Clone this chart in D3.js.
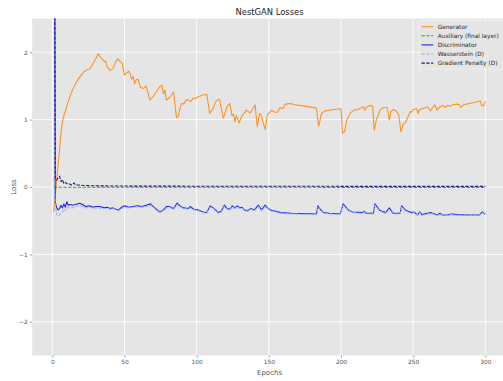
<!DOCTYPE html>
<html>
<head>
<meta charset="utf-8">
<script src="https://cdn.jsdelivr.net/npm/d3@7"></script>
<style>
  html, body { margin: 0; padding: 0; background: #ffffff; }
  svg { display: block; font-family: "DejaVu Sans", sans-serif; }
</style>
</head>
<body>
<svg id="chart" width="503" height="381"></svg>
<script>
// Loss curves per epoch: [epoch, loss]
const generator = [
  [1,-0.37],[2,-0.12],[3,0.1],[4,0.33],[5,0.55],[6,0.8],[7,0.96],[8,1.06],[9,1.12],[10,1.2],[12,1.33],
  [14,1.44],[16,1.53],[18,1.6],[20,1.66],[22,1.71],[24,1.74],[26,1.75],[28,1.82],[30,1.9],[32,1.98],
  [33,1.93],[35,1.89],[36,1.86],[37,1.87],[38,1.78],[40,1.73],[42,1.76],[44,1.86],[45.5,1.9],[47,1.86],
  [48.5,1.83],[50,1.66],[51.5,1.69],[53,1.72],[54,1.67],[55,1.6],[56,1.64],[57,1.53],[58,1.59],[59.5,1.6],
  [61,1.48],[63,1.46],[65,1.5],[67.5,1.29],[70,1.35],[72,1.41],[74.5,1.49],[76,1.51],[77,1.38],[78,1.44],
  [79,1.29],[81,1.32],[84,1.41],[86,1.03],[87,1.04],[89.5,1.24],[91,1.23],[93,1.3],[94,1.29],[96,1.27],
  [97.5,1.32],[99,1.31],[101,1.34],[104.5,1.365],[107,1.375],[109,1.09],[111.5,1.17],[113,1.26],[115,1.3],[116,1.29],
  [118.5,1.02],[121,1.19],[123,1.24],[124.5,1.06],[125.5,1.08],[126.5,0.97],[127.5,1.06],[129.5,0.95],[131,1.04],[134.5,1.14],
  [137,1.1],[139,1.16],[140.5,1.22],[142,0.89],[143.5,1.09],[144.5,1.07],[147.5,0.85],[149,1.07],[152,1.14],[154,1.11],
  [156,1.11],[157.5,1.17],[160,1.17],[161.5,1.23],[165,1.24],[168,1.22],[175,1.2],[183,1.17],[184.5,0.9],[186.5,1.09],
  [189,1.13],[195,1.15],[200,1.16],[201,0.8],[202.5,0.82],[204,0.99],[206.5,1.1],[209,1.14],[212,1.15],[213.5,1.17],
  [215.5,1.19],[216.5,1.14],[218,1.19],[220,1.21],[222,1.2],[223,0.845],[224.5,0.99],[227,1.14],[229.5,1.18],[232,1.18],
  [233.5,0.99],[234.5,1.12],[236.5,1.15],[238.5,1.12],[240,1.07],[241.5,0.82],[243,0.93],[244.5,0.955],[246,1.02],[248,1.12],
  [249,1.11],[250,1.15],[252.5,1.16],[253.5,1.09],[254.5,1.15],[259,1.18],[260,1.19],[262,1.13],[263.5,1.18],[265,1.22],
  [266.5,1.14],[268.5,1.19],[271,1.21],[272,1.18],[274,1.21],[276,1.2],[277.5,1.22],[280,1.23],[282,1.22],[283,1.18],
  [285,1.22],[289,1.24],[294,1.26],[296.5,1.28],[297.5,1.21],[298.5,1.2],[299.5,1.24],[300,1.27]
];

const auxiliary = [
  [1,0.0],[2,0.0],[5,-0.003],[20,-0.003],[60,-0.004],[120,-0.004],[200,-0.005],[300,-0.005]
];

const discriminator = [
  [1,12],[2,-0.22],[3,-0.31],[4,-0.34],[5,-0.32],[6,-0.27],[7,-0.31],[8,-0.25],[9,-0.3],[10,-0.22],
  [11,-0.27],[12,-0.26],[14,-0.27],[16,-0.26],[19,-0.24],[21,-0.26],[23,-0.29],[26,-0.28],[28,-0.3],[30,-0.29],
  [33,-0.29],[36,-0.31],[38,-0.3],[40,-0.32],[42,-0.31],[44,-0.33],[46,-0.34],[48,-0.3],[50,-0.28],[53,-0.3],
  [56,-0.29],[59,-0.28],[62,-0.29],[65,-0.27],[68,-0.25],[70,-0.29],[72,-0.33],[74.5,-0.37],[77,-0.34],[79,-0.29],
  [81,-0.29],[84,-0.32],[86.5,-0.24],[89,-0.29],[91,-0.31],[94,-0.32],[95.5,-0.29],[98,-0.33],[101,-0.34],[104.5,-0.37],
  [107,-0.38],[109.3,-0.28],[111.5,-0.31],[115,-0.38],[117,-0.36],[119.2,-0.27],[121,-0.32],[123,-0.33],[124.7,-0.28],[126.5,-0.31],
  [128.2,-0.28],[130,-0.31],[131.5,-0.3],[133,-0.34],[135.5,-0.35],[137.4,-0.32],[140,-0.34],[142.7,-0.27],[144,-0.31],[145,-0.34],
  [147.4,-0.27],[149,-0.31],[152,-0.35],[155,-0.36],[158,-0.38],[166,-0.39],[183,-0.4],[184,-0.28],[185.5,-0.33],[188,-0.38],
  [192,-0.39],[199.5,-0.4],[201.5,-0.25],[205,-0.34],[208,-0.37],[215,-0.38],[216,-0.36],[217.5,-0.39],[222.5,-0.39],[223.5,-0.25],
  [227,-0.35],[231,-0.38],[233.5,-0.31],[236,-0.39],[241,-0.39],[242,-0.28],[245,-0.35],[249,-0.38],[250.5,-0.37],[253,-0.415],
  [254.5,-0.37],[256,-0.41],[262,-0.38],[265,-0.4],[267,-0.415],[268.5,-0.39],[270,-0.415],[274,-0.415],[276,-0.4],[281,-0.41],
  [288,-0.415],[296,-0.415],[298,-0.37],[300,-0.405]
];

const wasserstein = [
  [1,0.12],[2,-0.25],[3,-0.41],[4,-0.43],[5,-0.42],[6,-0.38],[7,-0.37],[8,-0.33],[9,-0.35],[10,-0.3],
  [11,-0.31],[12,-0.3],[14,-0.31],[16,-0.29],[19,-0.27],[21,-0.29],[23,-0.31],[26,-0.3],[28,-0.32],[30,-0.31],
  [33,-0.31],[36,-0.32],[38,-0.32],[40,-0.33],[42,-0.32],[44,-0.34],[46,-0.35],[48,-0.32],[50,-0.3],[53,-0.31],
  [56,-0.3],[59,-0.29],[62,-0.3],[65,-0.29],[68,-0.27],[70,-0.3],[72,-0.34],[74.5,-0.38],[77,-0.35],[79,-0.31],
  [81,-0.3],[84,-0.33],[86.5,-0.26],[89,-0.3],[91,-0.32],[94,-0.33],[95.5,-0.31],[98,-0.34],[101,-0.35],[104.5,-0.38],
  [107,-0.39],[109.3,-0.3],[111.5,-0.32],[115,-0.39],[117,-0.37],[119.2,-0.29],[121,-0.33],[123,-0.34],[124.7,-0.3],[126.5,-0.32],
  [128.2,-0.3],[130,-0.32],[131.5,-0.31],[133,-0.35],[135.5,-0.36],[137.4,-0.33],[140,-0.35],[142.7,-0.29],[144,-0.32],[145,-0.35],
  [147.4,-0.29],[149,-0.32],[152,-0.36],[155,-0.37],[158,-0.39],[166,-0.4],[183,-0.41],[184,-0.3],[185.5,-0.34],[188,-0.39],
  [192,-0.4],[199.5,-0.41],[201.5,-0.27],[205,-0.35],[208,-0.38],[215,-0.39],[216,-0.37],[217.5,-0.4],[222.5,-0.4],[223.5,-0.27],
  [227,-0.36],[231,-0.39],[233.5,-0.33],[236,-0.4],[241,-0.4],[242,-0.3],[245,-0.36],[249,-0.39],[250.5,-0.38],[253,-0.42],
  [254.5,-0.38],[256,-0.42],[262,-0.39],[265,-0.41],[267,-0.42],[268.5,-0.4],[270,-0.42],[274,-0.42],[276,-0.41],[281,-0.42],
  [288,-0.42],[296,-0.42],[298,-0.38],[300,-0.41]
];

const gradientPenalty = [
  [1,9],[2,0.13],[3,0.1],[4,0.14],[5,0.16],[6,0.08],[7,0.11],[8,0.05],[9,0.07],[10,0.05],
  [11,0.05],[12,0.045],[13,0.03],[14,0.035],[15,0.06],[16,0.03],[18,0.03],[20,0.025],[25,0.02],[30,0.018],
  [40,0.015],[60,0.013],[100,0.012],[200,0.01],[300,0.01]
];

const seriesNames = ["Generator", "Auxiliary (final layer)", "Discriminator", "Wasserstein (D)", "Gradient Penalty (D)"];
const xTicks = [0, 50, 100, 150, 200, 250, 300];
const yTicks = [-2, -1, 0, 1, 2];

const series = [
  { name: seriesNames[0], data: generator,       color: "#ff9223", dash: null,      width: 1.1 },
  { name: seriesNames[1], data: auxiliary,       color: "#2ca02c", dash: "3.3,1.5", width: 1.1 },
  { name: seriesNames[2], data: discriminator,   color: "#2222f0", dash: null,      width: 1.1 },
  { name: seriesNames[3], data: wasserstein,     color: "#8fb8f2", dash: "3.3,1.5", width: 1.1 },
  { name: seriesNames[4], data: gradientPenalty, color: "#1c1c7a", dash: "3.3,1.5", width: 1.1 }
];

const svg = d3.select("#chart");
const plot = { left: 32.2, right: 506.9, top: 18.5, bottom: 355.5 };

const x = d3.scaleLinear().domain([-13.95, 314.95]).range([plot.left, plot.right]);
const y = d3.scaleLinear().domain([-2.5, 2.5]).range([plot.bottom, plot.top]);

// ggplot-style panel
svg.append("rect")
  .attr("x", plot.left).attr("y", plot.top)
  .attr("width", plot.right - plot.left).attr("height", plot.bottom - plot.top)
  .attr("fill", "#e5e5e5");

svg.append("defs").append("clipPath").attr("id", "panel")
  .append("rect")
  .attr("x", plot.left).attr("y", plot.top)
  .attr("width", plot.right - plot.left).attr("height", plot.bottom - plot.top);

// grid
const grid = svg.append("g");
grid.selectAll(".gx").data(xTicks).join("line")
  .attr("x1", d => x(d)).attr("x2", d => x(d))
  .attr("y1", plot.top).attr("y2", plot.bottom)
  .attr("stroke", "#ffffff").attr("stroke-width", 0.9);
grid.selectAll(".gy").data(yTicks).join("line")
  .attr("x1", plot.left).attr("x2", plot.right)
  .attr("y1", d => y(d)).attr("y2", d => y(d))
  .attr("stroke", "#ffffff").attr("stroke-width", 0.9);

// axes
const xAxis = d3.axisBottom(x).tickValues(xTicks).tickSize(2).tickPadding(2.5).tickFormat(d3.format("d"));
const yAxis = d3.axisLeft(y).tickValues(yTicks).tickSize(2).tickPadding(2.5)
  .tickFormat(d => d < 0 ? "\u2212" + Math.abs(d) : String(d));

const gx = svg.append("g").attr("transform", `translate(0,${plot.bottom})`).call(xAxis);
const gy = svg.append("g").attr("transform", `translate(${plot.left},0)`).call(yAxis);
[gx, gy].forEach(g => {
  g.select(".domain").remove();
  g.selectAll(".tick line").attr("stroke", "#555555").attr("stroke-width", 0.6);
  g.selectAll(".tick text").attr("fill", "#555555")
    .style("font-family", "'DejaVu Sans', sans-serif").style("font-size", "5.85px");
});

// lines
const line = d3.line().x(d => x(d[0])).y(d => y(d[1]));
const lines = svg.append("g").attr("clip-path", "url(#panel)");
series.forEach(s => {
  lines.append("path")
    .datum(s.data)
    .attr("d", line)
    .attr("fill", "none")
    .attr("stroke", s.color)
    .attr("stroke-width", s.width)
    .attr("stroke-linejoin", "round")
    .attr("stroke-dasharray", s.dash);
});

// title and axis labels
svg.append("text")
  .attr("x", (plot.left + plot.right) / 2).attr("y", 15)
  .attr("text-anchor", "middle")
  .attr("fill", "#1a1a1a")
  .style("font-size", "8.4px")
  .text("NestGAN Losses");

svg.append("text")
  .attr("x", (plot.left + plot.right) / 2).attr("y", 374.5)
  .attr("text-anchor", "middle")
  .attr("fill", "#555555")
  .style("font-size", "7px")
  .text("Epochs");

svg.append("text")
  .attr("transform", `translate(15.8,${(plot.top + plot.bottom) / 2}) rotate(-90)`)
  .attr("text-anchor", "middle")
  .attr("fill", "#555555")
  .style("font-size", "7px")
  .text("Loss");

// legend
const legend = svg.append("g");
const lgX = 419, lgY = 20.7, rowH = 9.1;
legend.append("rect")
  .attr("x", lgX).attr("y", lgY)
  .attr("width", 503 - lgX + 4).attr("height", 48.5)
  .attr("rx", 1.5)
  .attr("fill", "#e5e5e5").attr("fill-opacity", 0.8)
  .attr("stroke", "#f4f4f4").attr("stroke-width", 0.7);

series.forEach((s, i) => {
  const cy = lgY + 6 + i * rowH;
  legend.append("line")
    .attr("x1", lgX + 2.5).attr("x2", lgX + 14.2)
    .attr("y1", cy).attr("y2", cy)
    .attr("stroke", s.color).attr("stroke-width", s.width)
    .attr("stroke-dasharray", s.dash);
  legend.append("text")
    .attr("x", lgX + 18.7).attr("y", cy + 2.1)
    .attr("fill", "#262626")
    .style("font-size", "5.85px")
    .text(s.name);
});
</script>
</body>
</html>
